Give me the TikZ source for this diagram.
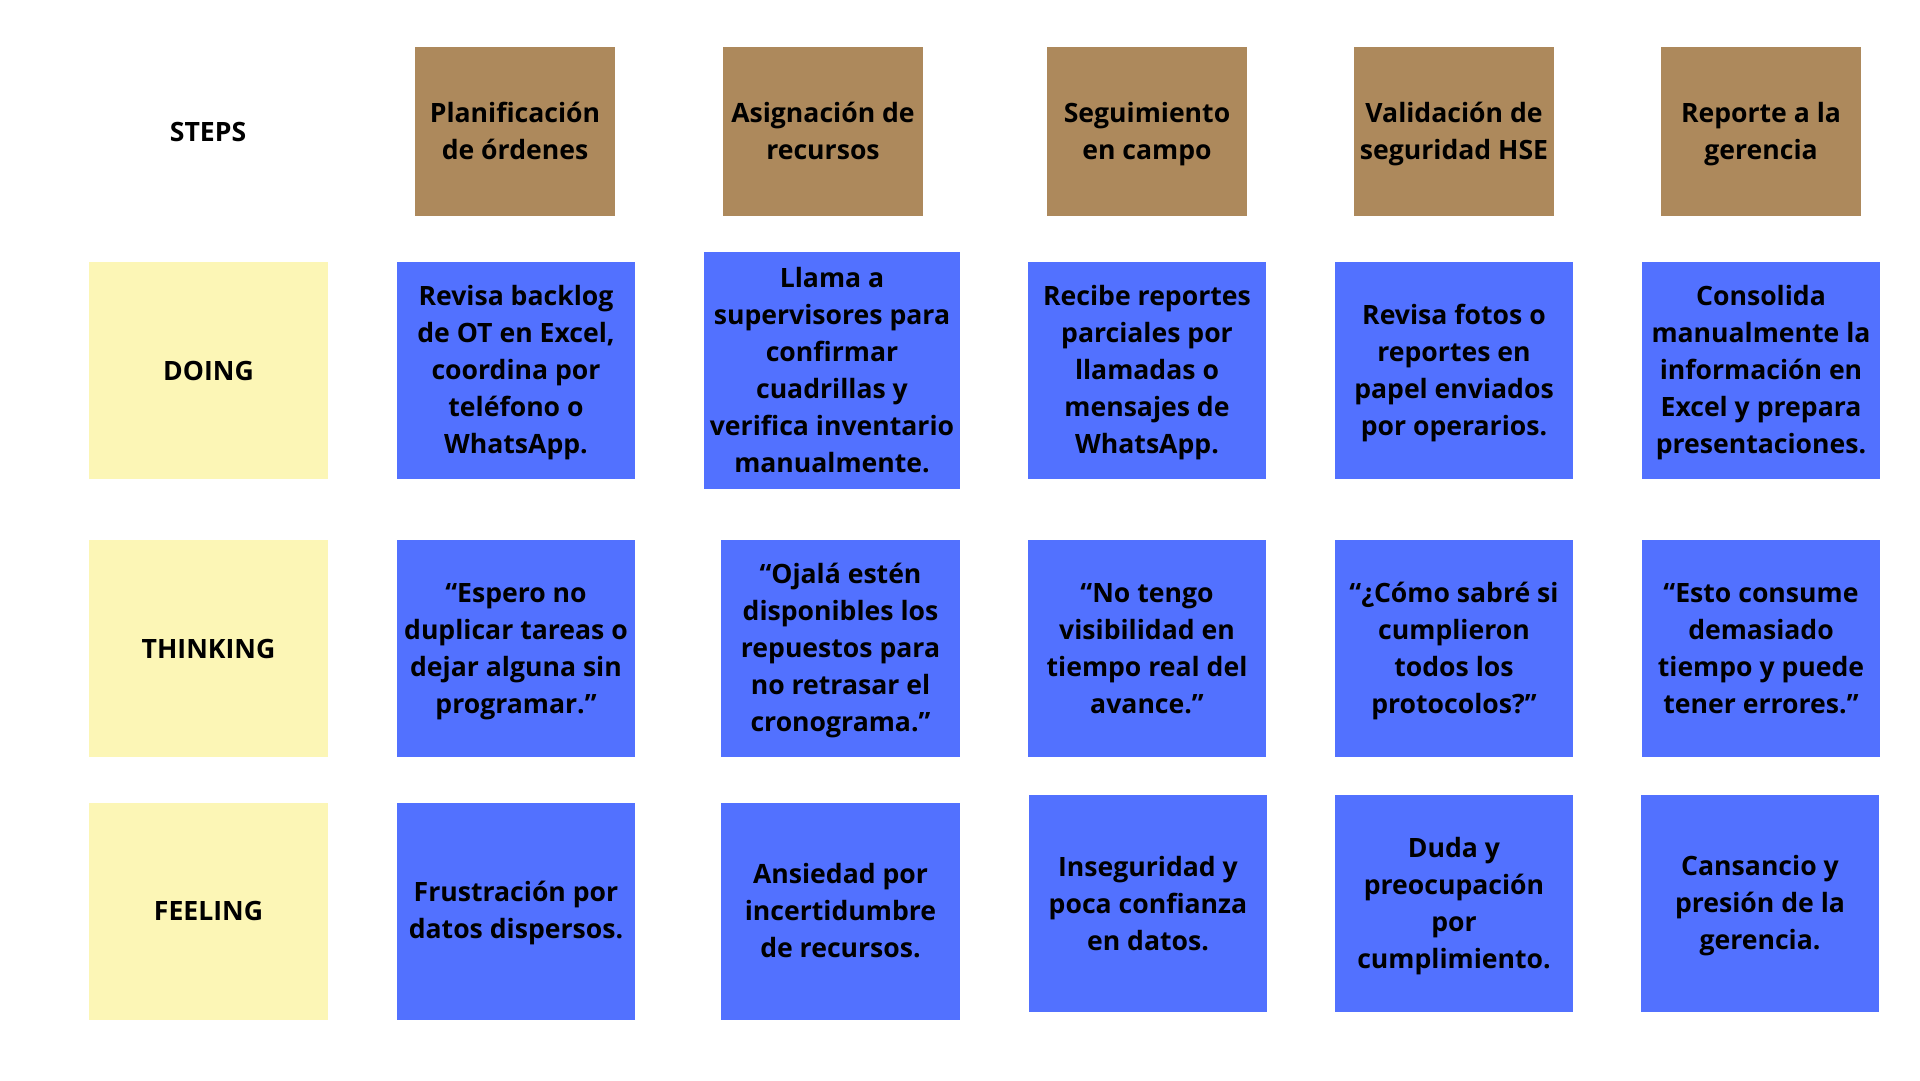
\documentclass[tikz,border=0pt]{standalone}
\usepackage{fontspec}
\setmainfont{Open Sans}
\definecolor{stepbrown}{RGB}{173,137,92}
\definecolor{cardblue}{RGB}{82,113,255}
\definecolor{rowyellow}{RGB}{252,246,182}
\newcommand\crd{\rule[-6pt]{0pt}{31pt}}
\begin{document}
\begin{tikzpicture}[x=1pt,y=-1pt,
  card/.style={inner sep=0pt, align=center, font=\fontsize{26.6}{37}\selectfont\bfseries, text=black},
  stepbox/.style={card, fill=stepbrown, minimum width=200pt, minimum height=169pt},
  bluebox/.style={card, fill=cardblue, minimum width=238.5pt, minimum height=217pt},
  rowbox/.style={card, fill=rowyellow, minimum width=239pt, minimum height=217pt}]
\useasboundingbox[fill=white] (0,0) rectangle (1920,1080);
% header row
\node[card] (steps) at (208,132) {\crd STEPS};
\node[stepbox] (s1) at (515,131.5) {\crd Planificación\\de órdenes\crd};
\node[stepbox] (s2) at (823,131.5) {\crd Asignación de\\recursos\crd};
\node[stepbox] (s3) at (1147,131.5) {\crd Seguimiento\\en campo\crd};
\node[stepbox] (s4) at (1454,131.5) {\crd Validación de\\seguridad HSE\crd};
\node[stepbox] (s5) at (1761,131.5) {\crd Reporte a la\\gerencia\crd};
% row labels
\node[rowbox] (doing) at (208.5,370.5) {\crd DOING};
\node[rowbox] (thinking) at (208.5,648.5) {\crd THINKING};
\node[rowbox] (feeling) at (208.5,911) {\crd FEELING};
% doing
\node[bluebox] (d1) at (516,370.5) {\crd Revisa backlog\\de OT en Excel,\\coordina por\\teléfono o\\WhatsApp.\crd};
\node[bluebox, minimum width=256pt, minimum height=237pt] (d2) at (832,370.5) {\crd Llama a\\supervisores para\\confirmar\\cuadrillas y\\verifica inventario\\manualmente.\crd};
\node[bluebox] (d3) at (1147,370.5) {\crd Recibe reportes\\parciales por\\llamadas o\\mensajes de\\WhatsApp.\crd};
\node[bluebox] (d4) at (1454,370.5) {\crd Revisa fotos o\\reportes en\\papel enviados\\por operarios.\crd};
\node[bluebox] (d5) at (1761,370.5) {\crd Consolida\\manualmente la\\información en\\Excel y prepara\\presentaciones.\crd};
% thinking
\node[bluebox] (t1) at (516,648.5) {\crd “Espero no\\duplicar tareas o\\dejar alguna sin\\programar.”\crd};
\node[bluebox] (t2) at (840.5,648.5) {\crd “Ojalá estén\\disponibles los\\repuestos para\\no retrasar el\\cronograma.”\crd};
\node[bluebox] (t3) at (1147,648.5) {\crd “No tengo\\visibilidad en\\tiempo real del\\avance.”\crd};
\node[bluebox] (t4) at (1454,648.5) {\crd “¿Cómo sabré si\\cumplieron\\todos los\\protocolos?”\crd};
\node[bluebox] (t5) at (1761,648.5) {\crd “Esto consume\\demasiado\\tiempo y puede\\tener errores.”\crd};
% feeling
\node[bluebox] (f1) at (516,911) {\crd Frustración por\\datos dispersos.\crd};
\node[bluebox] (f2) at (840.5,911) {\crd Ansiedad por\\incertidumbre\\de recursos.\crd};
\node[bluebox] (f3) at (1148,903.5) {\crd Inseguridad y\\poca confianza\\en datos.\crd};
\node[bluebox] (f4) at (1454,903.5) {\crd Duda y\\preocupación\\por\\cumplimiento.\crd};
\node[bluebox] (f5) at (1760,903.5) {\crd Cansancio y\\presión de la\\gerencia.\crd};
\end{tikzpicture}
\end{document}
